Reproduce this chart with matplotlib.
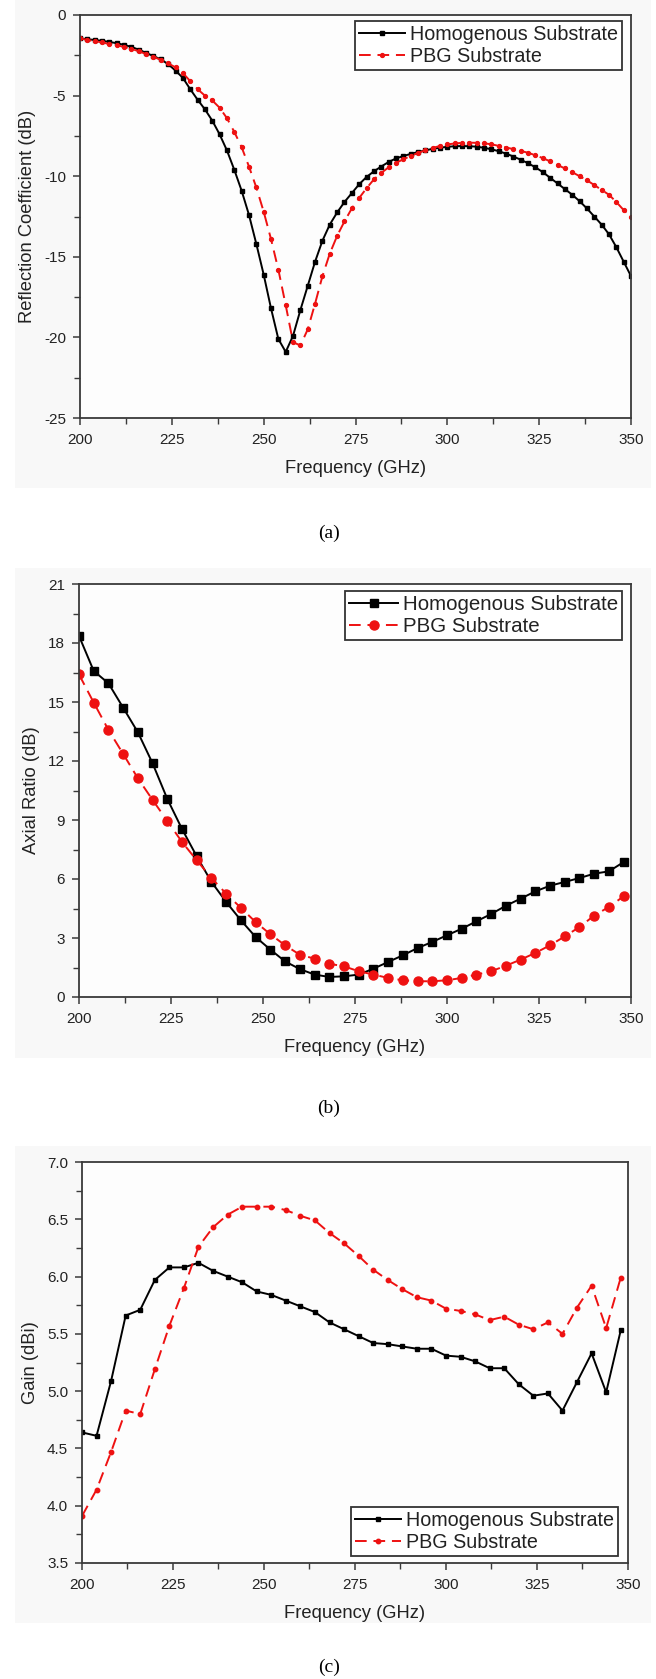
import numpy as np
import matplotlib
matplotlib.use('Agg')
import matplotlib.pyplot as plt
from matplotlib.ticker import MultipleLocator, AutoMinorLocator, FormatStrFormatter
from matplotlib.patches import Rectangle

# ---- data (a): reflection coefficient, 2 GHz step ----
freq_a = list(range(200, 351, 2))
refl_homo = [-1.45, -1.5, -1.55, -1.6, -1.67, -1.75, -1.85, -1.98, -2.15, -2.35,
             -2.55, -2.75, -3.05, -3.45, -3.9, -4.6, -5.25, -5.85, -6.55, -7.4,
             -8.4, -9.6, -10.9, -12.4, -14.2, -16.1, -18.2, -20.1, -20.9, -19.9,
             -18.3, -16.8, -15.3, -14.0, -13.0, -12.25, -11.6, -11.05, -10.5, -10.05,
             -9.7, -9.4, -9.12, -8.9, -8.75, -8.62, -8.5, -8.4, -8.3, -8.23,
             -8.18, -8.14, -8.13, -8.14, -8.17, -8.24, -8.33, -8.45, -8.6, -8.78,
             -8.98, -9.2, -9.45, -9.75, -10.1, -10.45, -10.8, -11.15, -11.55, -12.0,
             -12.5, -13.0, -13.6, -14.4, -15.3, -16.2]
refl_pbg = [-1.45, -1.55, -1.62, -1.7, -1.8, -1.88, -1.98, -2.1, -2.25, -2.42,
            -2.6, -2.78, -3.0, -3.25, -3.6, -4.1, -4.6, -5.0, -5.3, -5.75,
            -6.4, -7.25, -8.2, -9.4, -10.7, -12.2, -13.9, -15.8, -18.0, -20.3,
            -20.5, -19.5, -17.9, -16.2, -14.8, -13.7, -12.8, -12.0, -11.35, -10.75,
            -10.2, -9.8, -9.45, -9.18, -8.95, -8.75, -8.56, -8.4, -8.25, -8.12,
            -8.03, -7.97, -7.93, -7.92, -7.93, -7.96, -8.02, -8.12, -8.22, -8.32,
            -8.43, -8.55, -8.7, -8.88, -9.08, -9.3, -9.52, -9.75, -10.0, -10.25,
            -10.55, -10.85, -11.15, -11.6, -12.1, -12.5]

# ---- data (b): axial ratio, 4 GHz step ----
freq_b = list(range(200, 349, 4))
ar_homo = [18.36, 16.58, 15.95, 14.71, 13.46, 11.88, 10.07, 8.54, 7.15, 5.85,
           4.83, 3.9, 3.05, 2.41, 1.81, 1.42, 1.14, 1.02, 1.05, 1.14,
           1.44, 1.78, 2.12, 2.49, 2.8, 3.14, 3.47, 3.85, 4.22, 4.64,
           5.0, 5.37, 5.66, 5.85, 6.05, 6.27, 6.39, 6.86]
ar_pbg = [16.4, 14.97, 13.58, 12.36, 11.12, 10.02, 8.95, 7.88, 6.95, 6.05,
          5.25, 4.53, 3.81, 3.19, 2.63, 2.15, 1.95, 1.69, 1.56, 1.31,
          1.14, 0.97, 0.85, 0.8, 0.8, 0.85, 0.97, 1.14, 1.31, 1.59,
          1.9, 2.24, 2.63, 3.08, 3.56, 4.14, 4.58, 5.12]

# ---- data (c): gain, 4 GHz step ----
freq_c = list(range(200, 349, 4))
gain_homo = [4.64, 4.61, 5.09, 5.66, 5.71, 5.97, 6.08, 6.08, 6.12, 6.05,
             6.0, 5.95, 5.87, 5.84, 5.79, 5.74, 5.69, 5.6, 5.54, 5.48,
             5.42, 5.41, 5.39, 5.37, 5.37, 5.31, 5.3, 5.26, 5.2, 5.2,
             5.06, 4.96, 4.98, 4.83, 5.08, 5.33, 4.99, 5.53]
gain_pbg = [3.91, 4.14, 4.47, 4.83, 4.8, 5.19, 5.57, 5.9, 6.26, 6.43,
            6.54, 6.61, 6.61, 6.61, 6.58, 6.53, 6.49, 6.38, 6.29, 6.18,
            6.06, 5.97, 5.89, 5.82, 5.79, 5.72, 5.7, 5.67, 5.62, 5.65,
            5.58, 5.54, 5.6, 5.5, 5.73, 5.92, 5.55, 5.99]

labels = ['Homogenous Substrate', 'PBG Substrate']
captions = ['(a)', '(b)', '(c)']

W, H = 656, 1679
TXT = '#222222'
plt.rcParams['font.family'] = ['Liberation Sans', 'DejaVu Sans']
plt.rcParams['axes.unicode_minus'] = False

fig = plt.figure(figsize=(W / 100, H / 100), dpi=100)
fig.patch.set_facecolor('white')


def rect(l, r, t, b):
    return [l / W, 1 - b / H, (r - l) / W, (b - t) / H]


# faint grey backgrounds of the pasted plot images
for (t, b) in [(0, 488), (568, 1058), (1146, 1623)]:
    fig.patches.append(Rectangle((15 / W, 1 - b / H), 636 / W, (b - t) / H,
                                 transform=fig.transFigure, facecolor='#f8f8f8',
                                 edgecolor='none', zorder=-10))


def style_axes(ax, ylabel, ymin, ymax, ystep):
    ax.set_facecolor('#fdfdfd')
    ax.set_xlim(200, 350)
    ax.set_ylim(ymin, ymax)
    ax.xaxis.set_major_locator(MultipleLocator(25))
    ax.xaxis.set_minor_locator(AutoMinorLocator(2))
    ax.yaxis.set_major_locator(MultipleLocator(ystep))
    ax.yaxis.set_minor_locator(AutoMinorLocator(2))
    ax.tick_params(which='both', direction='out', colors='#3a3a3a',
                   labelcolor=TXT, labelsize=11, top=False, right=False)
    ax.tick_params(which='major', length=5, width=1.1)
    ax.tick_params(which='minor', length=4, width=1.0)
    ax.tick_params(axis='x', which='major', pad=6)
    ax.tick_params(axis='y', which='major', pad=5)
    for s in ax.spines.values():
        s.set_color('#3a3a3a')
        s.set_linewidth(1.3)
    ax.set_xlabel('Frequency (GHz)', fontsize=13.2, color=TXT, labelpad=9)
    ax.set_ylabel(ylabel, fontsize=13.2, color=TXT, labelpad=6)


def add_legend(ax, loc, anchor, size):
    leg = ax.legend(labels, loc=loc, bbox_to_anchor=anchor, fontsize=size,
                    frameon=True, fancybox=False, framealpha=1,
                    edgecolor='#333333', handlelength=2.35, handletextpad=0.25,
                    borderpad=0.2, labelspacing=0.15, borderaxespad=0,
                    handleheight=0.7)
    leg.get_frame().set_linewidth(1.3)
    for t in leg.get_texts():
        t.set_color(TXT)
    return leg


# ---- (a) ----
ax1 = fig.add_axes(rect(80, 631, 15, 418))
ax1.plot(freq_a, refl_homo, '-', color='black', lw=1.4, marker='s', ms=2.4)
ax1.plot(freq_a, refl_pbg, '--', color='#ee1111', lw=1.4, marker='o', ms=2.8,
         dashes=(6, 3.5))
style_axes(ax1, 'Reflection Coefficient (dB)', -25, 0, 5)
add_legend(ax1, 'upper right', (0.984, 0.985), 14.2)

# ---- (b) ----
ax2 = fig.add_axes(rect(79, 631, 584, 997))
ax2.plot(freq_b, ar_homo, '-', color='black', lw=1.4, marker='s', ms=5.5)
ax2.plot(freq_b, ar_pbg, '--', color='#ee1111', lw=1.4, marker='o', ms=6.5,
         dashes=(6, 3.5))
style_axes(ax2, 'Axial Ratio (dB)', 0, 21, 3)
add_legend(ax2, 'upper right', (0.984, 0.983), 14.8)

# ---- (c) ----
ax3 = fig.add_axes(rect(82, 628, 1162, 1563))
ax3.plot(freq_c, gain_homo, '-', color='black', lw=1.4, marker='s', ms=3)
ax3.plot(freq_c, gain_pbg, '--', color='#ee1111', lw=1.4, marker='o', ms=3.2,
         dashes=(6, 3.5))
style_axes(ax3, 'Gain (dBi)', 3.5, 7.0, 0.5)
ax3.yaxis.set_major_formatter(FormatStrFormatter('%.1f'))
add_legend(ax3, 'lower right', (0.982, 0.0175), 14.2)

# ---- captions ----
for cap, y in zip(captions, [533, 1108, 1667]):
    fig.text(329 / W, 1 - y / H, cap, ha='center', va='center',
             fontsize=14, family=['Liberation Serif', 'DejaVu Serif'], color='black')

fig.savefig('out.png', dpi=100)
